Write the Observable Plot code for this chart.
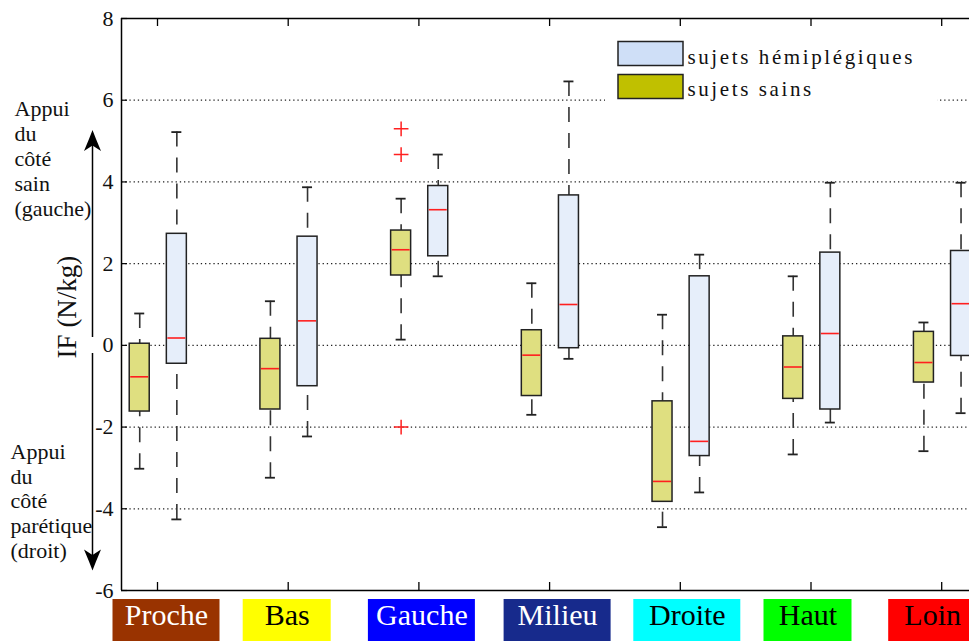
<!DOCTYPE html>
<html>
<head>
<meta charset="utf-8">
<script src="https://cdn.jsdelivr.net/npm/d3@7"></script>
<script src="https://cdn.jsdelivr.net/npm/@observablehq/plot@0.6"></script>
<style>
  html, body { margin: 0; padding: 0; background: #fff; overflow: hidden; }
  #chart svg { display: block; overflow: hidden; }
  #chart svg text { font-family: "Liberation Serif", "DejaVu Serif", serif; }
</style>
</head>
<body>
<div id="chart"></div>
<script>
// ---------- data ----------
const categories = ["Proche", "Bas", "Gauche", "Milieu", "Droite", "Haut", "Loin"];
const seriesNames = ["sujets sains", "sujets hémiplégiques"];

// sujets sains : [lower whisker, Q1, median, Q3, upper whisker]
const sainsLow    = [-3.02, -3.24, 0.14, -1.70, -4.45, -2.67, -2.59];
const sainsQ1     = [-1.62, -1.57, 1.71, -1.24, -3.83, -1.31, -0.91];
const sainsMedian = [-0.77, -0.57, 2.34, -0.24, -3.33, -0.53, -0.42];
const sainsQ3     = [ 0.04,  0.16, 2.81,  0.37, -1.37,  0.22,  0.33];
const sainsHigh   = [ 0.78,  1.08, 3.59,  1.52,  0.75,  1.69,  0.56];

// sujets hémiplégiques
const hemiLow    = [-4.26, -2.23, 1.69, -0.33, -3.60, -1.89, -1.66];
const hemiQ1     = [-0.45, -1.00, 2.18, -0.07, -2.71, -1.57, -0.26];
const hemiMedian = [ 0.18,  0.60, 3.32,  1.00, -2.35,  0.29,  1.02];
const hemiQ3     = [ 2.73,  2.66, 3.90,  3.67,  1.69,  2.27,  2.31];
const hemiHigh   = [ 5.22,  3.87, 4.67,  6.46,  2.22,  3.98,  3.98];

// outliers (sujets sains)
const outlierCategories = ["Gauche", "Gauche", "Gauche"];
const outlierValues     = [5.30, 4.67, -2.00];

const yTickValues = [-6, -4, -2, 0, 2, 4, 6, 8];
const gridValues  = [-4, -2, 0, 2, 4, 6];
const yAxisLabel = "IF (N/kg)";
const topNote = "Appui\ndu\ncôté\nsain\n(gauche)";
const bottomNote = "Appui\ndu\ncôté\nparétique\n(droit)";

// ---------- styles / layout ----------
const SERIF = "Liberation Serif";
const labelBg    = ["#993300", "#ffff00", "#0000ff", "#172a8c", "#00ffff", "#00ff00", "#ff0000"];
const labelInk   = ["#ffffff", "#000000", "#ffffff", "#ffffff", "#000000", "#000000", "#000000"];
const labelShiftPx = [9, -1, 3, 8, 7, -3, -9];
const boxFill    = {"sujets sains": "#dfdf80", "sujets hémiplégiques": "#e6eefa"};
const swatchFill = {"sujets sains": "#c0c000", "sujets hémiplégiques": "#cfdff7"};
const seriesOffset = {"sujets sains": -0.136, "sujets hémiplégiques": 0.148};

const W = 969, H = 641;
const pxPerX = 130.7, x0px = 157;          // category 0 at 157 px
const xDomain = [(121 - x0px) / pxPerX, (121 - x0px) / pxPerX + 6.5508];
const yDomain = [-6, 8];
const pxPerY = (590 - 18) / 14;
const xOf = px => (px - x0px) / pxPerX;      // pixel -> data
const yOf = py => 8 - (py - 18) / pxPerY;
const boxHalf = 10 / pxPerX, capHalf = 5 / pxPerX;

// ---------- table ----------
const rows = [];
categories.forEach((c, i) => {
  rows.push({cat: c, i, series: seriesNames[0], low: sainsLow[i], q1: sainsQ1[i], med: sainsMedian[i], q3: sainsQ3[i], high: sainsHigh[i]});
  rows.push({cat: c, i, series: seriesNames[1], low: hemiLow[i], q1: hemiQ1[i], med: hemiMedian[i], q3: hemiQ3[i], high: hemiHigh[i]});
});
rows.forEach(d => d.pos = d.i + seriesOffset[d.series]);
const outliers = outlierValues.map((v, k) => ({cat: outlierCategories[k], series: seriesNames[0], v}));
const labels = categories.map((c, i) => ({
  c, i,
  cx: i + labelShiftPx[i] / pxPerX,
  half: Math.max(88, c.length * 17.5 + 2) / 2 / pxPerX,
  bg: labelBg[i], ink: labelInk[i]
}));
const legendItems = [seriesNames[1], seriesNames[0]];

const arrowUp = {draw(ctx) { ctx.moveTo(0, 0); ctx.lineTo(3.5, 9); ctx.lineTo(8.5, 21); ctx.lineTo(0, 15.5); ctx.lineTo(-8.5, 21); ctx.lineTo(-3.5, 9); ctx.closePath(); }};
const arrowDown = {draw(ctx) { ctx.moveTo(0, 0); ctx.lineTo(3.5, -9); ctx.lineTo(8.5, -21); ctx.lineTo(0, -15.5); ctx.lineTo(-8.5, -21); ctx.lineTo(-3.5, -9); ctx.closePath(); }};
const arrowX = xOf(92);

const chart = Plot.plot({
  width: W, height: H,
  marginLeft: 121, marginRight: 0, marginTop: 18, marginBottom: 51,
  style: {fontFamily: "'Liberation Serif', 'DejaVu Serif', serif", background: "white", color: "#000"},
  x: {type: "linear", domain: xDomain, range: [121, 121 + 6.5508 * pxPerX], axis: null},
  y: {type: "linear", domain: yDomain},
  marks: [
    Plot.gridY(gridValues, {stroke: "#222", strokeOpacity: 1, strokeWidth: 1.2, strokeDasharray: "1.3,2.9"}),
    // legend background
    Plot.rect([0], {x1: xOf(605), x2: xOf(937), y1: yOf(24), y2: yOf(106), fill: "white"}),
    // whiskers
    Plot.ruleX(rows, {x: "pos", y1: "high", y2: "q3", stroke: "#333", strokeWidth: 1.6, strokeDasharray: "15,11"}),
    Plot.ruleX(rows, {x: "pos", y1: "low", y2: "q1", stroke: "#333", strokeWidth: 1.6, strokeDasharray: "15,11"}),
    Plot.ruleY(rows, {y: "high", x1: d => d.pos - capHalf, x2: d => d.pos + capHalf, stroke: "#222", strokeWidth: 1.8}),
    Plot.ruleY(rows, {y: "low", x1: d => d.pos - capHalf, x2: d => d.pos + capHalf, stroke: "#222", strokeWidth: 1.8}),
    // boxes
    Plot.rect(rows, {x1: d => d.pos - boxHalf, x2: d => d.pos + boxHalf, y1: "q1", y2: "q3", fill: d => boxFill[d.series], stroke: "#222", strokeWidth: 1.5}),
    Plot.ruleY(rows, {y: "med", x1: d => d.pos - boxHalf, x2: d => d.pos + boxHalf, stroke: "#ff1f1f", strokeWidth: 1.6, insetLeft: 1, insetRight: 1}),
    Plot.dot(outliers, {x: d => categories.indexOf(d.cat) + seriesOffset[d.series], y: "v", symbol: "plus", r: 4.8, stroke: "#ff2020", strokeWidth: 1.5}),
    // frame
    Plot.ruleY([8, -6], {stroke: "#000", strokeWidth: 1.5}),
    Plot.ruleX([xDomain[0]], {y1: -6, y2: 8, stroke: "#000", strokeWidth: 1.5}),
    Plot.ruleX(d3.range(categories.length), {y1: -6, y2: yOf(582), stroke: "#000", strokeWidth: 1.3}),
    Plot.ruleX(d3.range(categories.length), {y1: 8, y2: yOf(26), stroke: "#000", strokeWidth: 1.3}),
    Plot.ruleY(yTickValues, {x1: xDomain[0], x2: xOf(127), stroke: "#000", strokeWidth: 1.2}),
    Plot.axisY(yTickValues, {anchor: "left", tickSize: 0, tickPadding: 8, tickFormat: d => String(d), fontSize: 22, fontFamily: SERIF, label: null, fill: "#111"}),
    // y label
    Plot.text([yAxisLabel], {x: xOf(67), y: yOf(306.5), text: d => d, rotate: -90, fontSize: 27, fontFamily: SERIF, fill: "#111"}),
    // side arrow
    Plot.ruleX([arrowX], {y1: yOf(337), y2: yOf(142), stroke: "#000", strokeWidth: 1.5}),
    Plot.ruleX([arrowX], {y1: yOf(353), y2: yOf(556), stroke: "#000", strokeWidth: 1.5}),
    Plot.dot([0], {x: arrowX, y: yOf(129.5), symbol: arrowUp, fill: "#000", stroke: "none"}),
    Plot.dot([0], {x: arrowX, y: yOf(570), symbol: arrowDown, fill: "#000", stroke: "none"}),
    Plot.text([topNote], {x: xOf(14), y: yOf(97.5), text: d => d, textAnchor: "start", lineAnchor: "top", lineHeight: 1.14, fontSize: 22, fontFamily: SERIF, fill: "#111"}),
    Plot.text([bottomNote], {x: xOf(10), y: yOf(440.5), text: d => d, textAnchor: "start", lineAnchor: "top", lineHeight: 1.13, fontSize: 22, fontFamily: SERIF, fill: "#111"}),
    // category label boxes
    Plot.rect(labels, {x1: d => d.cx - d.half, x2: d => d.cx + d.half, y1: yOf(599), y2: yOf(660), fill: d => d.bg}),
    Plot.text(labels, {x: "cx", y: yOf(615), text: "c", fill: d => d.ink, fontSize: 30, fontFamily: SERIF}),
    // legend
    Plot.rect(legendItems, {x1: xOf(618), x2: xOf(683), y1: (d, k) => yOf(41.5 + k * 33), y2: (d, k) => yOf(65.5 + k * 33), fill: d => swatchFill[d], stroke: "#222", strokeWidth: 1.5}),
    Plot.text(legendItems, {x: xOf(687), y: (d, k) => yOf(56.5 + k * 32), text: d => d, textAnchor: "start", fontSize: 21, fontFamily: SERIF, fill: "#111"})
  ]
});
d3.select(chart).selectAll("text")
  .filter(function() { return seriesNames.includes(this.textContent); })
  .style("letter-spacing", "2.6px");
document.getElementById("chart").appendChild(chart);
</script>
</body>
</html>
